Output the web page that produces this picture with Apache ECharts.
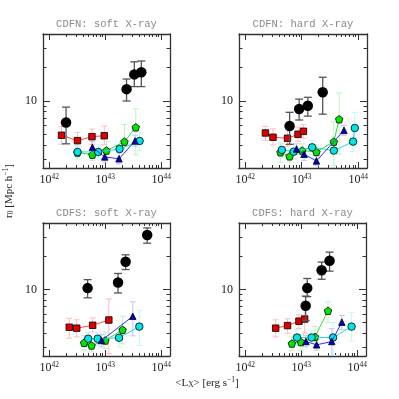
<!DOCTYPE html>
<html>
<head>
<meta charset="utf-8">
<script src="https://cdn.jsdelivr.net/npm/echarts@6/dist/echarts.min.js"></script>
<style>
  html, body { margin: 0; padding: 0; background: #fff; }
  #chart { width: 399px; height: 399px; }
</style>
</head>
<body>
<div id="chart"></div>
<script>
// each row: [<Lx> erg/s, r0, r0 low, r0 high]
const cdfnSoftBlack = [[2.0e42, 6.4, 4.1, 8.8], [2.4e43, 12.8, 10.0, 15.8], [3.3e43, 17.4, 13.5, 22.6], [4.4e43, 18.2, 13.5, 23.0]];
const cdfnSoftRed = [[1.66e42, 4.9, 4.06, 5.86], [3.2e42, 4.38, 3.86, 5.2], [5.8e42, 4.76, 4.06, 5.58], [9.6e42, 4.85, 4.03, 5.94]];
const cdfnSoftGreen = [[3.2e42, 3.42, 3.0, 3.9], [5.9e42, 3.27, 2.9, 3.7], [1.05e43, 3.56, 3.0, 4.3], [2.2e43, 4.29, 3.45, 6.15], [3.5e43, 5.78, 3.26, 8.5]];
const cdfnSoftBlue = [[5.9e42, 3.81, 3.3, 4.3], [9.8e42, 3.12, 2.8, 3.5], [1.76e43, 3.0, 2.7, 3.4], [3.4e43, 4.35, 3.9, 4.9]];
const cdfnSoftCyan = [[3.2e42, 3.46, 3.1, 3.9], [7.5e42, 3.46, 3.0, 4.0], [1.8e43, 3.68, 3.1, 4.3], [4.1e43, 4.35, 3.6, 5.2]];

const cdfnHardBlack = [[6.1e42, 5.94, 4.06, 7.9], [9.0e42, 8.47, 6.73, 10.4], [1.28e43, 9.07, 7.3, 10.8], [2.35e43, 12.0, 7.6, 16.4]];
const cdfnHardRed = [[2.28e42, 5.14, 4.4, 5.9], [3.1e42, 4.7, 4.0, 5.6], [5.6e42, 4.6, 3.9, 5.5], [8.6e42, 5.0, 4.3, 5.8], [1.07e43, 5.32, 4.6, 6.1]];
const cdfnHardGreen = [[4.2e42, 3.44, 2.8, 4.1], [6.1e42, 3.16, 2.8, 3.6], [1.02e43, 3.56, 3.1, 4.1], [1.82e43, 3.46, 3.0, 4.0], [3.7e43, 4.29, 2.6, 6.5], [4.6e43, 6.84, 3.3, 11.8]];
const cdfnHardBlue = [[8.1e42, 3.68, 3.3, 4.1], [1.1e43, 3.3, 2.9, 3.7], [1.82e43, 2.87, 2.6, 3.2], [5.6e43, 5.43, 4.9, 6.0]];
const cdfnHardCyan = [[4.45e42, 3.61, 3.1, 4.2], [7.2e42, 3.48, 3.0, 4.0], [1.53e43, 3.81, 3.3, 4.4], [3.7e43, 3.56, 2.6, 4.8], [8.1e43, 4.29, 3.5, 5.3], [8.7e43, 5.7, 4.3, 7.9]];

const cdfsSoftBlack = [[4.85e42, 10.3, 8.4, 12.3], [1.69e43, 11.6, 9.3, 14.0], [2.31e43, 17.9, 15.2, 20.7], [5.6e43, 31.4, 26.4, 36.4]];
const cdfsSoftRed = [[2.28e42, 4.53, 3.6, 5.46], [3.1e42, 4.44, 3.7, 5.3], [5.96e42, 4.72, 4.1, 5.5], [1.16e43, 5.27, 2.6, 8.2]];
const cdfsSoftGreen = [[4.2e42, 3.27, 2.8, 3.8], [5.7e42, 3.09, 2.7, 3.5], [1.0e43, 3.43, 2.9, 4.1], [2.04e43, 4.29, 3.2, 5.7]];
const cdfsSoftBlue = [[8.6e42, 3.43, 3.0, 3.9], [3.1e43, 5.7, 3.78, 7.72]];
const cdfsSoftCyan = [[4.97e42, 3.56, 3.1, 4.1], [7.3e42, 3.56, 3.1, 4.1], [1.76e43, 3.63, 3.0, 4.4], [4.05e43, 4.59, 3.1, 6.5]];

const cdfsHardBlack = [[1.2e43, 7.1, 5.2, 8.7], [1.28e43, 10.3, 8.6, 12.6], [2.31e43, 15.0, 12.4, 17.8], [3.2e43, 18.3, 14.7, 21.9]];
const cdfsHardRed = [[3.5e42, 4.44, 3.7, 5.3], [5.7e42, 4.69, 4.0, 5.4], [9.1e42, 5.14, 4.4, 5.9], [1.15e43, 5.38, 4.0, 6.7]];
const cdfsHardGreen = [[6.8e42, 3.22, 2.8, 3.7], [9.9e42, 3.32, 2.8, 3.9], [1.76e43, 3.7, 3.0, 4.6], [3.0e43, 6.4, 5.0, 7.7]];
const cdfsHardBlue = [[1.21e43, 3.36, 3.0, 3.8], [1.88e43, 3.13, 2.8, 3.5], [3.5e43, 3.36, 2.5, 4.4], [5.3e43, 5.04, 4.3, 5.8]];
const cdfsHardCyan = [[8.4e42, 3.65, 3.1, 4.3], [1.53e43, 3.65, 3.2, 4.2], [3.7e43, 3.65, 2.5, 5.0], [7.9e43, 4.59, 3.4, 6.2]];

const panelTitles = ['CDFN: soft X-ray', 'CDFN: hard X-ray', 'CDFS: soft X-ray', 'CDFS: hard X-ray'];
const xMajorTicks = [1e42, 1e43, 1e44];
const xMinorTicks = [2e42, 3e42, 4e42, 5e42, 6e42, 7e42, 8e42, 9e42, 2e43, 3e43, 4e43, 5e43, 6e43, 7e43, 8e43, 9e43];
const yMajorTicks = [10];
const yMinorTicks = [3, 4, 5, 6, 7, 8, 9, 20, 30];

const panels = [
  { red: cdfnSoftRed, green: cdfnSoftGreen, cyan: cdfnSoftCyan, blue: cdfnSoftBlue, black: cdfnSoftBlack },
  { red: cdfnHardRed, green: cdfnHardGreen, cyan: cdfnHardCyan, blue: cdfnHardBlue, black: cdfnHardBlack },
  { red: cdfsSoftRed, green: cdfsSoftGreen, cyan: cdfsSoftCyan, blue: cdfsSoftBlue, black: cdfsSoftBlack },
  { red: cdfsHardRed, green: cdfsHardGreen, cyan: cdfsHardCyan, blue: cdfsHardBlue, black: cdfsHardBlack }
];

const grids = [
  { left: 43, top: 34, width: 127, height: 134 },
  { left: 239, top: 34, width: 128, height: 134 },
  { left: 43, top: 223, width: 127, height: 133 },
  { left: 239, top: 223, width: 127, height: 133 }
];

// axis extents in log10 units
const X_MIN = 41.89, X_MAX = 44.155;
const Y_MIN = 0.394, Y_MAX = 1.606;

const SERIF = '"Liberation Serif", "DejaVu Serif", serif';
const AXIS_COLOR = '#333';
const PENTAGON = 'path://M0,-1L0.951,-0.309L0.588,0.809L-0.588,0.809L-0.951,-0.309Z';

const groupStyle = {
  red:   { symbol: 'rect', size: 6.5, fill: '#e00000', line: '#ff4a4a', err: '#ffbcbc', cap: 6 },
  green: { symbol: PENTAGON, size: 7.5, fill: '#00e600', line: '#33dd33', err: '#bff2bf', cap: 6 },
  cyan:  { symbol: 'circle', size: 7.5, fill: '#00e5e5', line: '#2ad8d8', err: '#bdfafa', cap: 6 },
  blue:  { symbol: 'triangle', size: 6.5, fill: '#0000cc', line: '#3030ff', err: '#c4c4ff', cap: 6 },
  black: { symbol: 'circle', size: 10.5, fill: '#000', line: null, err: '#555', cap: 8 }
};

function frameAxis(dim, gi, position, ticks, len, showLine, showLabel) {
  const isX = dim === 'x';
  const vals = ticks.map(Math.log10);
  const axis = {
    type: 'value',
    gridIndex: gi,
    position: position,
    min: isX ? X_MIN : Y_MIN,
    max: isX ? X_MAX : Y_MAX,
    axisLine: { show: showLine, onZero: false, lineStyle: { color: AXIS_COLOR, width: 1.3 } },
    axisTick: { show: true, inside: true, length: len, customValues: vals, lineStyle: { color: AXIS_COLOR, width: 1 } },
    axisLabel: { show: false },
    splitLine: { show: false }
  };
  if (showLabel) {
    axis.axisLabel = {
      show: true,
      customValues: vals,
      margin: isX ? 5 : 6,
      color: '#222',
      fontFamily: SERIF,
      fontSize: 12,
      formatter: isX ? (v => '{a|10}{b|' + Math.round(v) + '}') : (v => String(Math.round(Math.pow(10, v)))),
      rich: {
        a: { fontSize: 12, fontFamily: SERIF, color: '#222', lineHeight: 14 },
        b: { fontSize: 7.5, fontFamily: SERIF, color: '#222', verticalAlign: 'top', lineHeight: 9 }
      }
    };
  }
  return axis;
}

const xAxes = [];
const yAxes = [];
grids.forEach((g, gi) => {
  xAxes.push({ type: 'log', logBase: 10, gridIndex: gi, min: Math.pow(10, X_MIN), max: Math.pow(10, X_MAX), show: false });
  xAxes.push(frameAxis('x', gi, 'bottom', xMajorTicks, 6, true, true));
  xAxes.push(frameAxis('x', gi, 'bottom', xMinorTicks, 3, false, false));
  xAxes.push(frameAxis('x', gi, 'top', xMajorTicks, 6, true, false));
  xAxes.push(frameAxis('x', gi, 'top', xMinorTicks, 3, false, false));
  yAxes.push({ type: 'log', logBase: 10, gridIndex: gi, min: Math.pow(10, Y_MIN), max: Math.pow(10, Y_MAX), show: false });
  yAxes.push(frameAxis('y', gi, 'left', yMajorTicks, 7, true, true));
  yAxes.push(frameAxis('y', gi, 'left', yMinorTicks, 3.5, false, false));
  yAxes.push(frameAxis('y', gi, 'right', yMajorTicks, 7, true, false));
  yAxes.push(frameAxis('y', gi, 'right', yMinorTicks, 3.5, false, false));
});

function errorBars(capW, color, lw) {
  return function (params, api) {
    const x = api.value(0);
    const lo = api.coord([x, api.value(1)]);
    const hi = api.coord([x, api.value(2)]);
    const h = capW / 2;
    const style = { stroke: color, lineWidth: lw };
    return {
      type: 'group',
      children: [
        { type: 'line', shape: { x1: lo[0], y1: lo[1], x2: hi[0], y2: hi[1] }, style: style },
        { type: 'line', shape: { x1: lo[0] - h, y1: lo[1], x2: lo[0] + h, y2: lo[1] }, style: style },
        { type: 'line', shape: { x1: hi[0] - h, y1: hi[1], x2: hi[0] + h, y2: hi[1] }, style: style }
      ]
    };
  };
}

const series = [];
const order = ['red', 'green', 'cyan', 'blue', 'black'];
panels.forEach((p, gi) => {
  const ax = gi * 5;
  order.forEach((key, k) => {
    const st = groupStyle[key];
    const rows = p[key];
    series.push({
      type: 'custom',
      xAxisIndex: ax,
      yAxisIndex: ax,
      clip: true,
      z: key === 'black' ? 4 : 1,
      silent: true,
      encode: { x: 0, y: [1, 2] },
      renderItem: errorBars(st.cap, st.err, key === 'black' ? 1.3 : 1),
      data: rows.map(d => [d[0], d[2], d[3]])
    });
    series.push({
      type: st.line ? 'line' : 'scatter',
      xAxisIndex: ax,
      yAxisIndex: ax,
      z: key === 'black' ? 5 : 2 + k * 0.1,
      silent: true,
      symbol: st.symbol,
      symbolSize: st.size,
      showSymbol: true,
      animation: false,
      itemStyle: { color: st.fill, borderColor: '#000', borderWidth: key === 'black' ? 0 : 0.8, opacity: 1 },
      lineStyle: st.line ? { color: st.line, width: 1 } : undefined,
      data: rows.map(d => [d[0], d[1]])
    });
  });
});

const titleGraphics = panelTitles.map((t, i) => ({
  type: 'text',
  x: grids[i].left + grids[i].width / 2,
  y: grids[i].top - 10,
  style: {
    text: t,
    fill: '#8a8a8a',
    fontSize: 10.5,
    fontFamily: '"Liberation Mono", "DejaVu Sans Mono", monospace',
    align: 'center',
    verticalAlign: 'middle'
  }
}));

const chart = echarts.init(document.getElementById('chart'), null, { renderer: 'canvas' });
chart.setOption({
  animation: false,
  backgroundColor: '#fff',
  grid: grids.map(g => Object.assign({ containLabel: false, outerBoundsMode: 'none' }, g)),
  xAxis: xAxes,
  yAxis: yAxes,
  series: series,
  graphic: titleGraphics.concat([
    {
      type: 'text',
      x: 9,
      y: 191,
      rotation: Math.PI / 2,
      style: {
        text: '{a|r}{s|0}{a| [Mpc h}{p|−1}{a|]}',
        align: 'center',
        verticalAlign: 'middle',
        rich: {
          a: { fontSize: 11, fontFamily: SERIF, fill: '#222', lineHeight: 13 },
          s: { fontSize: 7.5, fontFamily: SERIF, fill: '#222', verticalAlign: 'bottom', lineHeight: 9 },
          p: { fontSize: 7.5, fontFamily: SERIF, fill: '#222', verticalAlign: 'top', lineHeight: 9 }
        }
      }
    },
    {
      type: 'text',
      x: 207,
      y: 383,
      style: {
        text: '{a|<L}{s|X}{a|> [erg s}{p|−1}{a|]}',
        align: 'center',
        verticalAlign: 'middle',
        rich: {
          a: { fontSize: 11, fontFamily: SERIF, fill: '#222', lineHeight: 13 },
          s: { fontSize: 7.5, fontFamily: SERIF, fill: '#222', verticalAlign: 'bottom', lineHeight: 9 },
          p: { fontSize: 7.5, fontFamily: SERIF, fill: '#222', verticalAlign: 'top', lineHeight: 9 }
        }
      }
    }
  ])
});
</script>
</body>
</html>
